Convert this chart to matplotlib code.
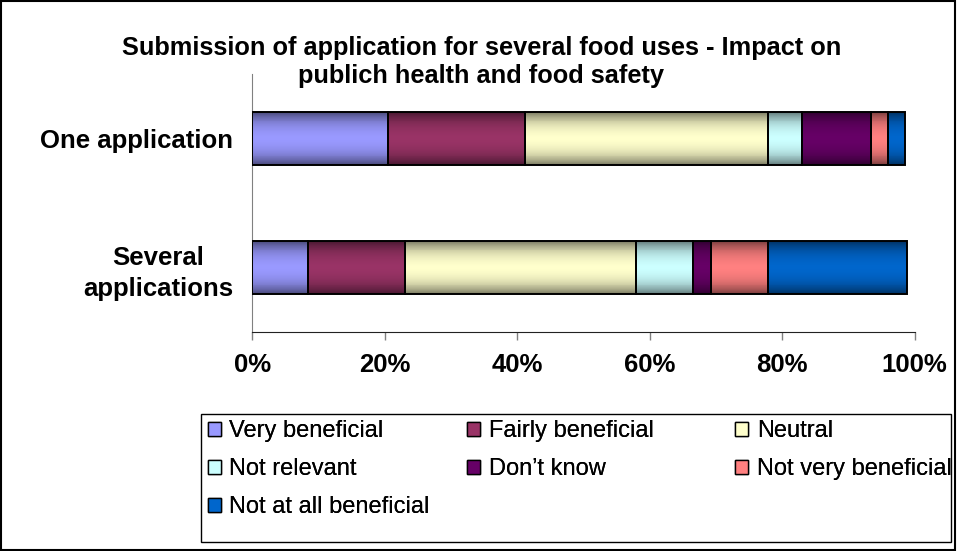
import numpy as np
import matplotlib
matplotlib.use('Agg')
import matplotlib.pyplot as plt
import matplotlib.patches as mpatches

plt.rcParams['font.family'] = ['Liberation Sans', 'DejaVu Sans']

# data (percent of respondents)
categories = ['Several\napplications', 'One application']
series_names = ['Very beneficial', 'Fairly beneficial', 'Neutral', 'Not relevant',
                'Don\u2019t know', 'Not very beneficial', 'Not at all beneficial']
very_beneficial = [8.4, 20.5]
fairly_beneficial = [14.6, 20.6]
neutral = [35.0, 36.8]
not_relevant = [8.5, 5.1]
dont_know = [2.7, 10.4]
not_very_beneficial = [8.7, 2.6]
not_at_all_beneficial = [20.9, 2.5]
xticks = [0, 20, 40, 60, 80, 100]
title = 'Submission of application for several food uses - Impact on\npublich health and food safety'

series = [very_beneficial, fairly_beneficial, neutral, not_relevant,
          dont_know, not_very_beneficial, not_at_all_beneficial]
colors = ['#9999FF', '#993366', '#FFFFCC', '#CCFFFF', '#660066', '#FF8080', '#0066CC']

fig = plt.figure(figsize=(9.57, 5.51), dpi=100)
ax = fig.add_axes([0.2638, 0.3975, 0.6918, 0.4682])

y = np.arange(len(categories))
left = np.zeros(len(categories))

# excel "cylinder" fill: darker at the top / bottom edge of each bar,
# done with nested bars of shrinking height
bar_h = 0.41
fracs = np.linspace(1.0, 0.04, 28)
for vals, c in zip(series, colors):
    base = np.array(matplotlib.colors.to_rgb(c))
    for hf in fracs:
        k = 0.47 + 0.53 * (1 - hf ** 2) ** 0.8
        ax.barh(y, vals, left=left, height=bar_h * hf, color=base * k,
                edgecolor='none', antialiased=False, zorder=2)
    ax.barh(y, vals, left=left, height=bar_h, fill=False, edgecolor='black', lw=1.4, zorder=4)
    left = left + np.array(vals)

ax.set_xlim(0, 100)
ax.set_ylim(-0.5, 1.5)
ax.set_xticks(xticks)
ax.set_xticklabels([f'{v}%' for v in xticks], fontsize=18.5, fontweight='bold')
ax.set_yticks(y)
ax.set_yticklabels(categories, fontsize=18.5, fontweight='bold', multialignment='center',
                   linespacing=1.35)
ax.tick_params(axis='x', direction='out', length=5.8, width=1, color='#808080', pad=9.5)
ax.tick_params(axis='y', length=0, pad=14)
ax.spines['top'].set_visible(False)
ax.spines['right'].set_visible(False)
ax.spines['left'].set_color('#808080')
ax.spines['bottom'].set_color('#222222')

fig.text(0.503, 0.935, title, ha='center', va='top', fontsize=18.3, fontweight='bold',
         linespacing=1.2)

# legend: excel lays the entries out row by row in equal columns
handles = [mpatches.Patch(facecolor=c, edgecolor='black', lw=1) for c in colors]
col_items = [[0, 3, 6], [1, 4], [2, 5]]
col_x = [0.2175, 0.4885, 0.7685]
for items, cx in zip(col_items, col_x):
    lg = fig.legend([handles[i] for i in items], [series_names[i] for i in items],
                    loc='upper left', bbox_to_anchor=(cx, 1 - 420 / 551), frameon=False,
                    fontsize=17, handlelength=0.55, handleheight=0.55, handletextpad=0.35,
                    labelspacing=0.68, borderpad=0, borderaxespad=0)
    fig.add_artist(lg)

fig.patches.append(mpatches.Rectangle((201 / 957, 1 - 542 / 551), 750 / 957, 128 / 551,
                                      transform=fig.transFigure, fill=False,
                                      edgecolor='black', lw=1))
fig.patches.append(mpatches.Rectangle((0.001, 0.002), 0.997, 0.996, transform=fig.transFigure,
                                      fill=False, edgecolor='black', lw=1.5))

plt.savefig('out.png', dpi=100)
